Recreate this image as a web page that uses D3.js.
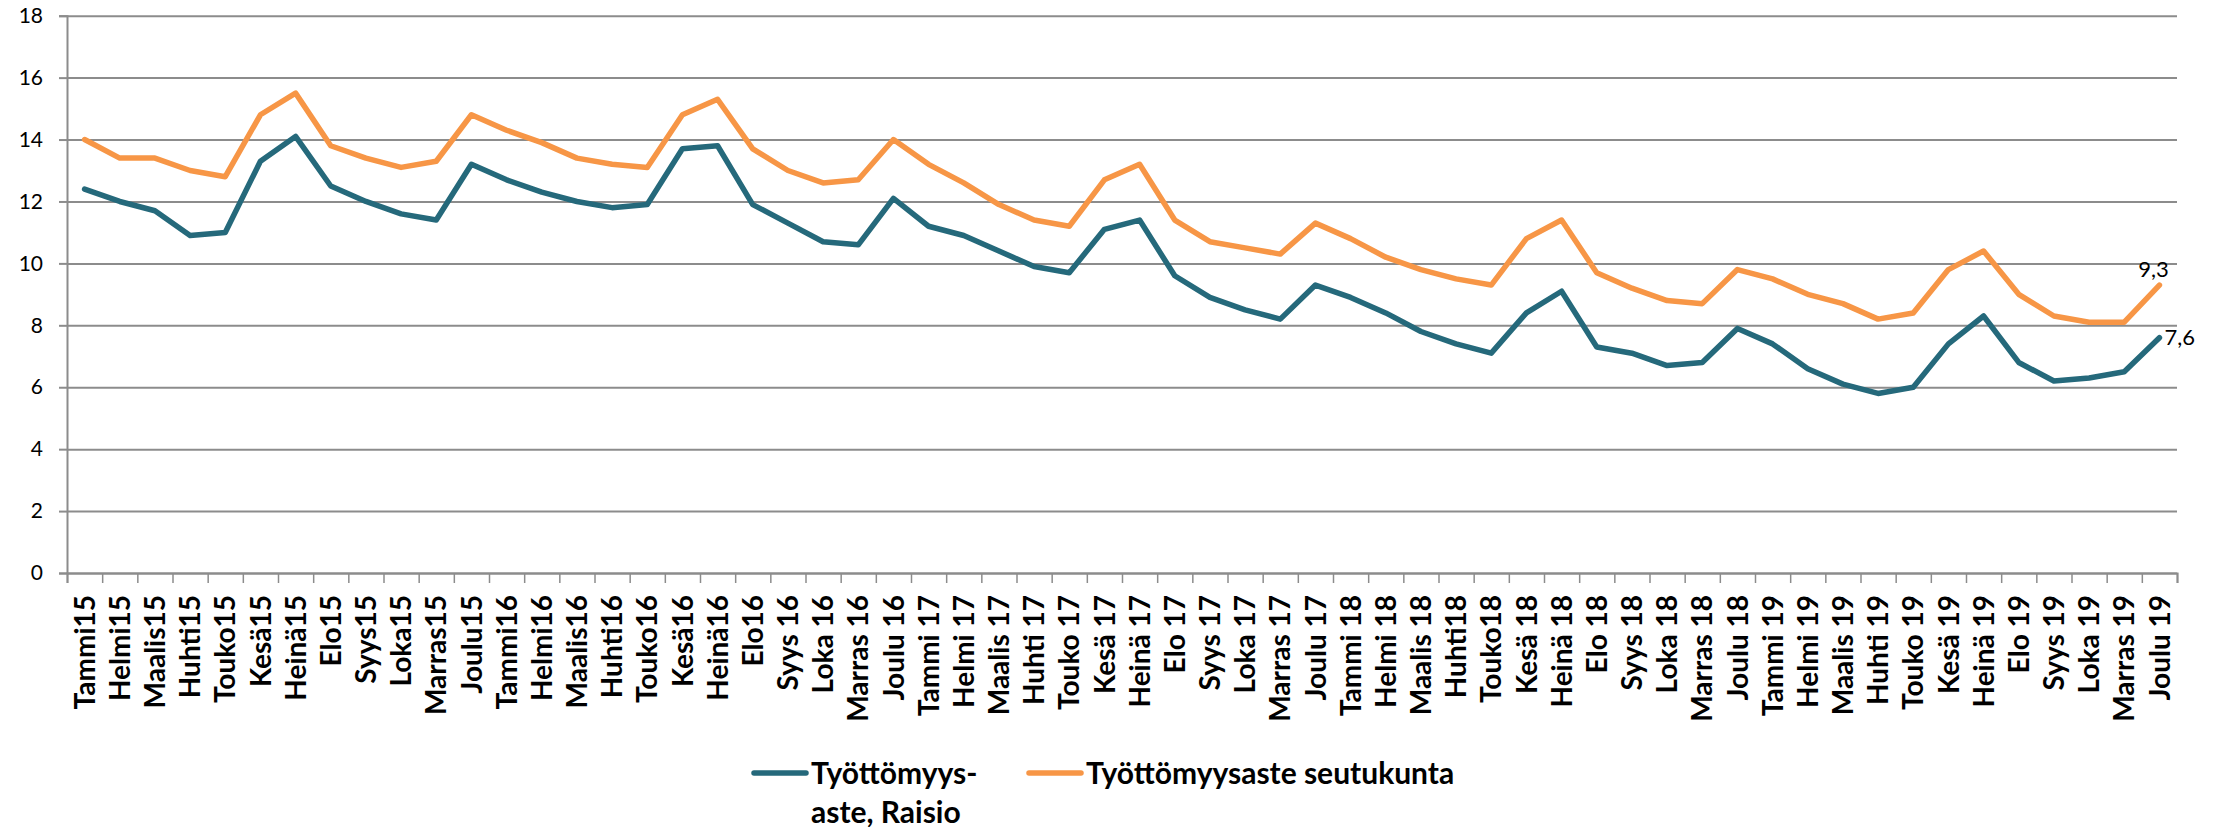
<!DOCTYPE html>
<html>
<head>
  <meta charset="utf-8">
  <title>Työttömyysaste</title>
  <script src="https://d3js.org/d3.v7.min.js"></script>
  <style>
    body { margin: 0; background: #fff; font-family: Lato, "Open Sans", sans-serif; }
    .ylab text { font-size: 21px; fill: #000; }
    .xlab text { font-size: 28px; font-weight: bold; fill: #000; }
    .legend text { font-size: 30px; font-weight: bold; fill: #000; }
    .dlabel { font-size: 22px; fill: #000; }
  </style>
</head>
<body>
<div id="chart"></div>
<script>
const width = 2221;
const height = 827;
const margin = { top: 15.7, bottom: 254, left: 67, right: 44 };

// kuukaudet 2015-2019
const months = [
  "Tammi15", "Helmi15", "Maalis15", "Huhti15", "Touko15", "Kesä15", "Heinä15", "Elo15", "Syys15", "Loka15", "Marras15", "Joulu15",
  "Tammi16", "Helmi16", "Maalis16", "Huhti16", "Touko16", "Kesä16", "Heinä16", "Elo16", "Syys 16", "Loka 16", "Marras 16", "Joulu 16",
  "Tammi 17", "Helmi 17", "Maalis 17", "Huhti 17", "Touko 17", "Kesä 17", "Heinä 17", "Elo 17", "Syys 17", "Loka 17", "Marras 17", "Joulu 17",
  "Tammi 18", "Helmi 18", "Maalis 18", "Huhti18", "Touko18", "Kesä 18", "Heinä 18", "Elo 18", "Syys 18", "Loka 18", "Marras 18", "Joulu 18",
  "Tammi 19", "Helmi 19", "Maalis 19", "Huhti 19", "Touko 19", "Kesä 19", "Heinä 19", "Elo 19", "Syys 19", "Loka 19", "Marras 19", "Joulu 19"
];

const raisio = [
  12.4, 12.0, 11.7, 10.9, 11.0, 13.3, 14.1, 12.5, 12.0, 11.6, 11.4, 13.2,
  12.7, 12.3, 12.0, 11.8, 11.9, 13.7, 13.8, 11.9, 11.3, 10.7, 10.6, 12.1,
  11.2, 10.9, 10.4, 9.9, 9.7, 11.1, 11.4, 9.6, 8.9, 8.5, 8.2, 9.3,
  8.9, 8.4, 7.8, 7.4, 7.1, 8.4, 9.1, 7.3, 7.1, 6.7, 6.8, 7.9,
  7.4, 6.6, 6.1, 5.8, 6.0, 7.4, 8.3, 6.8, 6.2, 6.3, 6.5, 7.6
];

const seutukunta = [
  14.0, 13.4, 13.4, 13.0, 12.8, 14.8, 15.5, 13.8, 13.4, 13.1, 13.3, 14.8,
  14.3, 13.9, 13.4, 13.2, 13.1, 14.8, 15.3, 13.7, 13.0, 12.6, 12.7, 14.0,
  13.2, 12.6, 11.9, 11.4, 11.2, 12.7, 13.2, 11.4, 10.7, 10.5, 10.3, 11.3,
  10.8, 10.2, 9.8, 9.5, 9.3, 10.8, 11.4, 9.7, 9.2, 8.8, 8.7, 9.8,
  9.5, 9.0, 8.7, 8.2, 8.4, 9.8, 10.4, 9.0, 8.3, 8.1, 8.1, 9.3
];

const yTicks = [0, 2, 4, 6, 8, 10, 12, 14, 16, 18];

const seriesNames = ["Työttömyys-|aste, Raisio", "Työttömyysaste seutukunta"];
const seriesColors = ["#25697b", "#f79646"];
const series = [raisio, seutukunta];

const svg = d3.select("#chart")
  .append("svg")
  .attr("width", width)
  .attr("height", height);

const x = d3.scaleBand()
  .domain(months)
  .range([margin.left, width - margin.right])
  .padding(0);

// rajat kategorioiden välissä
const xEdge = d3.scaleLinear()
  .domain([0, months.length])
  .range([margin.left, width - margin.right]);

const y = d3.scaleLinear()
  .domain([0, 18])
  .range([height - margin.bottom, margin.top]);

const cx = d => x(d) + x.bandwidth() / 2;

// gridlines
svg.append("g")
  .attr("transform", `translate(${margin.left},0)`)
  .call(d3.axisLeft(y).tickValues(yTicks).tickSize(-(width - margin.left - margin.right)).tickFormat(""))
  .call(g => g.select(".domain").remove())
  .call(g => g.selectAll("line").attr("stroke", "#8c8c8c").attr("stroke-width", 2));

// y axis
svg.append("g")
  .attr("class", "ylab")
  .attr("transform", `translate(${margin.left},0)`)
  .call(d3.axisLeft(y).tickValues(yTicks).tickSize(8).tickPadding(16))
  .call(g => g.select(".domain").attr("stroke", "#8c8c8c").attr("stroke-width", 2))
  .call(g => g.selectAll("line").attr("stroke", "#8c8c8c").attr("stroke-width", 2))
  .call(g => g.selectAll("text").attr("font-family", "Lato"));

// x axis ticks
svg.append("g")
  .attr("transform", `translate(0,${y(0)})`)
  .call(d3.axisBottom(xEdge).tickValues(d3.range(months.length + 1)).tickSize(10).tickFormat(""))
  .call(g => g.select(".domain").attr("stroke", "#8c8c8c").attr("stroke-width", 2))
  .call(g => g.selectAll("line").attr("stroke", "#8c8c8c").attr("stroke-width", 1.5));

// x labels
svg.append("g")
  .attr("class", "xlab")
  .attr("transform", `translate(0,${y(0)})`)
  .call(d3.axisBottom(x).tickSize(0).tickPadding(0))
  .call(g => g.select(".domain").remove())
  .call(g => g.selectAll("text")
    .attr("font-family", "Lato")
    .attr("text-anchor", "end")
    .attr("transform", "translate(0,22) rotate(-90)")
    .attr("x", 0)
    .attr("y", 0)
    .attr("dy", "0.36em"));

// lines
const line = d3.line()
  .x((d, i) => cx(months[i]))
  .y(d => y(d));

series.forEach((s, k) => {
  svg.append("path")
    .datum(s)
    .attr("fill", "none")
    .attr("stroke", seriesColors[k])
    .attr("stroke-width", 5.5)
    .attr("stroke-linejoin", "round")
    .attr("stroke-linecap", "round")
    .attr("d", line);
});

// arvot viimeiselle pisteelle
const last = months.length - 1;
const fmt = v => d3.format(".1f")(v).replace(".", ",");
svg.append("text")
  .attr("class", "dlabel")
  .attr("x", cx(months[last]) - 6)
  .attr("y", y(seutukunta[last]) - 8)
  .attr("text-anchor", "middle")
  .text(fmt(seutukunta[last]));
svg.append("text")
  .attr("class", "dlabel")
  .attr("x", cx(months[last]) + 5)
  .attr("y", y(raisio[last]))
  .attr("dy", "0.35em")
  .text(fmt(raisio[last]));

// legend
const legendX = [754, 1029];
const legend = svg.append("g").attr("class", "legend");
seriesNames.forEach((name, k) => {
  const g = legend.append("g").attr("transform", `translate(${legendX[k]},773)`);
  g.append("line")
    .attr("x1", 0).attr("x2", 52)
    .attr("stroke", seriesColors[k])
    .attr("stroke-width", 5.5)
    .attr("stroke-linecap", "round");
  const t = g.append("text").attr("x", 57).attr("dy", "0.35em");
  name.split("|").forEach((part, j) => {
    t.append("tspan").attr("x", 57).attr("dy", j === 0 ? "0.35em" : "39px").text(part);
  });
});
</script>
</body>
</html>
